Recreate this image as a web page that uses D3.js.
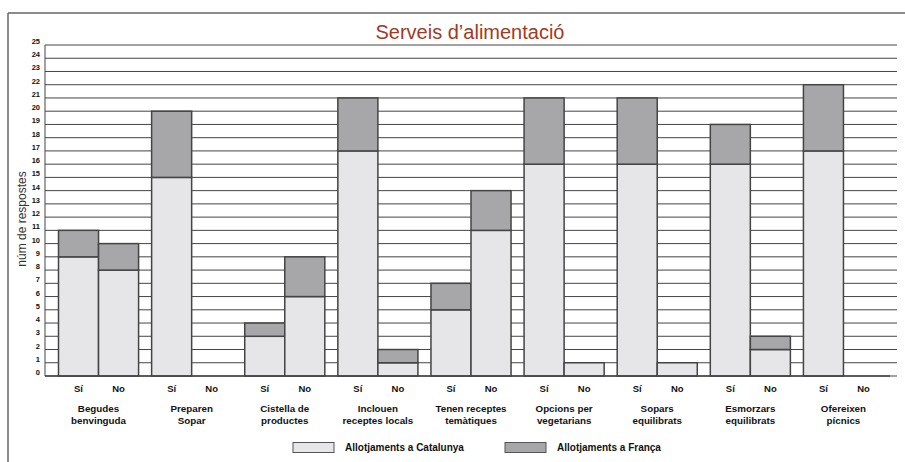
<!DOCTYPE html>
<html><head><meta charset="utf-8">
<script src="https://cdn.jsdelivr.net/npm/d3@7"></script>
<style>body{margin:0;background:#fff}svg{display:block}</style>
</head><body>
<script>
const categories = [
  ["Begudes","benvinguda"],
  ["Preparen","Sopar"],
  ["Cistella de","productes"],
  ["Inclouen","receptes locals"],
  ["Tenen receptes","temàtiques"],
  ["Opcions per","vegetarians"],
  ["Sopars","equilibrats"],
  ["Esmorzars","equilibrats"],
  ["Ofereixen","pícnics"]
];
const answers = ["Sí","No"];
const siCatalunya = [9,15,3,17,5,16,16,16,17];
const siFranca    = [2,5,1,4,2,5,5,3,5];
const noCatalunya = [8,0,6,1,11,1,1,2,0];
const noFranca    = [2,0,3,1,3,0,0,1,0];
const seriesNames = ["Allotjaments a Catalunya","Allotjaments a França"];
const yTicks = d3.range(0,26);
const title = "Serveis d’alimentació";
const yLabel = "núm de respostes";

const W=905,H=462;
const colors=["#e6e6e8","#a7a7a9"];
const svg=d3.select("body").append("svg").attr("width",W).attr("height",H);

// frame
svg.append("line").attr("x1",8).attr("x2",905).attr("y1",13).attr("y2",13).attr("stroke","#666").attr("stroke-width",1.5);
svg.append("line").attr("x1",8).attr("x2",8).attr("y1",13).attr("y2",462).attr("stroke","#666").attr("stroke-width",1.5);

const x0=d3.scaleBand().domain(d3.range(categories.length)).range([45,897]).paddingInner(0.14).paddingOuter(0.145);
const x1=d3.scaleBand().domain(answers).range([0,x0.bandwidth()]);
const y=d3.scaleLinear().domain([0,25]).range([376,45]);

// gridlines
svg.append("g").selectAll("line").data(yTicks).join("line")
  .attr("x1",45).attr("x2",897).attr("y1",d=>y(d)).attr("y2",d=>y(d))
  .attr("stroke","#444").attr("stroke-width",1);
svg.append("line").attr("x1",45).attr("x2",45).attr("y1",y(25)).attr("y2",y(0)).attr("stroke","#444").attr("stroke-width",1);

// y tick labels
svg.append("g").selectAll("text").data(yTicks).join("text")
  .attr("x",40).attr("y",d=>y(d)-1).attr("text-anchor","end")
  .attr("font-family","Liberation Sans, Arial, sans-serif").attr("font-weight","bold")
  .attr("font-size",7.5).attr("fill","#111").text(d=>d);

// y label
svg.append("text").attr("transform","translate(26,219) rotate(-90)")
  .attr("text-anchor","middle").attr("font-family","Liberation Sans, Arial, sans-serif")
  .attr("font-size",12).attr("fill","#333").text(yLabel);

// data rows
const rows=[];
categories.forEach((c,i)=>{
  rows.push({i,a:"Sí",v:[siCatalunya[i],siFranca[i]]});
  rows.push({i,a:"No",v:[noCatalunya[i],noFranca[i]]});
});
const segs=[];
rows.forEach(r=>{let base=0;r.v.forEach((v,k)=>{if(v>0)segs.push({i:r.i,a:r.a,k,y0:base,y1:base+v});base+=v;});});

svg.append("g").selectAll("rect").data(segs).join("rect")
  .attr("x",d=>x0(d.i)+x1(d.a)).attr("width",x1.bandwidth())
  .attr("y",d=>y(d.y1)).attr("height",d=>y(d.y0)-y(d.y1))
  .attr("fill",d=>colors[d.k]).attr("stroke","#444").attr("stroke-width",1.5);

// baseline
svg.append("line").attr("x1",45).attr("x2",890).attr("y1",y(0)).attr("y2",y(0)).attr("stroke","#444").attr("stroke-width",1.5);

// Sí / No labels
svg.append("g").selectAll("text").data(rows).join("text")
  .attr("x",d=>x0(d.i)+x1(d.a)+x1.bandwidth()/2).attr("y",392).attr("text-anchor","middle")
  .attr("font-family","Liberation Sans, Arial, sans-serif").attr("font-weight","bold")
  .attr("font-size",9.5).attr("fill","#111").text(d=>d.a);

// category labels
const cg=svg.append("g").selectAll("text").data(categories).join("text")
  .attr("text-anchor","middle").attr("font-family","Liberation Sans, Arial, sans-serif")
  .attr("font-weight","bold").attr("font-size",9.8).attr("fill","#111");
cg.append("tspan").attr("x",(d,i)=>x0(i)+x0.bandwidth()/2).attr("y",412).text(d=>d[0]);
cg.append("tspan").attr("x",(d,i)=>x0(i)+x0.bandwidth()/2).attr("y",424).text(d=>d[1]);

// title
svg.append("text").attr("x",470).attr("y",39).attr("text-anchor","middle")
  .attr("font-family","Liberation Sans, Arial, sans-serif").attr("font-size",20)
  .attr("fill","#a23a22").text(title);

// legend
const lg=[{x:293,tx:345},{x:505,tx:557}];
seriesNames.forEach((n,k)=>{
  svg.append("rect").attr("x",lg[k].x).attr("y",442.5).attr("width",41).attr("height",10)
    .attr("fill",colors[k]).attr("stroke","#555").attr("stroke-width",1);
  svg.append("text").attr("x",lg[k].tx).attr("y",451).attr("font-family","Liberation Sans, Arial, sans-serif")
    .attr("font-weight","bold").attr("font-size",10).attr("fill","#111").text(n);
});
</script>
</body></html>
